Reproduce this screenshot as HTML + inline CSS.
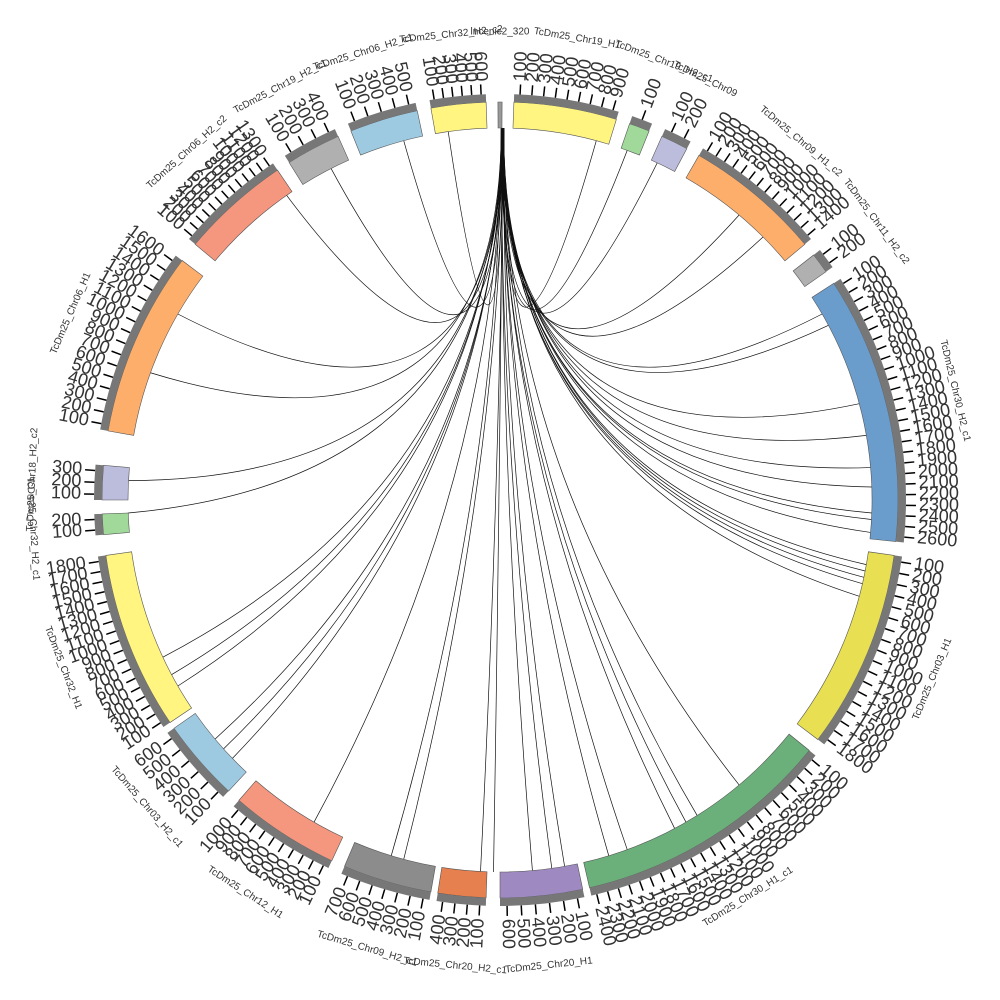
<!DOCTYPE html>
<html><head><meta charset="utf-8"><style>
html,body{margin:0;padding:0;background:#fff;}
svg{display:block;font-family:"Liberation Sans",sans-serif;}
</style></head><body>
<svg id="s" width="1000" height="1000" viewBox="0 0 1000 1000" xmlns="http://www.w3.org/2000/svg"></svg>
<script>
var S=document.getElementById('s'),C=500,NS='http://www.w3.org/2000/svg';
function P(r,a){a=a*Math.PI/180;return [C+r*Math.sin(a),C-r*Math.cos(a)];}
function el(t,at,txt){var e=document.createElementNS(NS,t);for(var k in at)e.setAttribute(k,at[k]);if(txt!=null)e.textContent=txt;S.appendChild(e);return e;}
function arc(r1,r2,a1,a2){var p1=P(r2,a1),p2=P(r2,a2),p3=P(r1,a2),p4=P(r1,a1),l=(a2-a1)>180?1:0;
return 'M'+p1+' A'+r2+' '+r2+' 0 '+l+' 1 '+p2+' L'+p3+' A'+r1+' '+r1+' 0 '+l+' 0 '+p4+'Z';}
var segs=[
[-0.3,0.3,'#999','lncenic2_320',0],
[2,17,'#fff580','TcDm25_Chr19_H1',9],
[19,22,'#a1d99b','TcDm25_Chr19_H2_c1',1],
[24,28,'#bcbddc','TcDm25_Chr09',2],
[30,50,'#fdae6b','TcDm25_Chr09_H1_c2',14],
[52,55,'#b0b0b0','TcDm25_Chr11_H2_c2',2],
[57,96,'#6a9ccc','TcDm25_Chr30_H2_c1',26],
[98,127,'#e8e052','TcDm25_Chr03_H1',18],
[129,167,'#6bb07a','TcDm25_Chr30_H1_c1',24],
[168,180,'#9e89c1','TcDm25_Chr20_H1',6],
[182,189,'#e6804f','TcDm25_Chr20_H2_c1',4],
[190,203,'#8c8c8c','TcDm25_Chr09_H2_c1',7],
[205,221,'#f4977e','TcDm25_Chr12_H1',10],
[223,235,'#9ecae1','TcDm25_Chr03_H2_c1',6],
[236,262,'#fff580','TcDm25_Chr32_H1',18],
[265,268,'#a1d99b','TcDm25_Chr32_H2_c1',2],
[270,275,'#bcbddc','TcDm25_Chr18_H2_c2',3],
[280,307,'#fdae6b','TcDm25_Chr06_H1',16],
[310,326,'#f4977e','TcDm25_Chr06_H2_c2',13],
[328,336,'#b0b0b0','TcDm25_Chr19_H2_c1',4],
[338,348,'#9ecae1','TcDm25_Chr06_H2_c1',5],
[350,358,'#fff580','TcDm25_Chr32_H2_c2',6]];
// links
var tg=[325,333,345,352,15,20,25,40,45,60,62,75,80,85,88,92,93,95,100,101,102,103,105,140,148,150,152,160,163,170,172,175,181,183,195,197,210,226,228,230,240,242,245,268,273,290,300];
tg.forEach(function(t,i){var s=P(372,0.2+(i%5)*0.1),e=P(372,t);
el('path',{d:'M'+s+' Q'+C+' '+(C-20)+' '+e,fill:'none',stroke:'#111','stroke-width':0.7});});
segs.forEach(function(g){var a1=g[0],a2=g[1];
el('path',{d:arc(372,398,a1,a2),fill:g[2],stroke:'#555','stroke-width':0.6});
if(g[4]>0)el('path',{d:arc(398,406,a1,a2),fill:'#777'});
var n=g[4];
for(var i=0;i<n;i++){var a=a1+(a2-a1)*(i+0.5)/n,p1=P(406,a),p2=P(416,a);
el('line',{x1:p1[0],y1:p1[1],x2:p2[0],y2:p2[1],stroke:'#000','stroke-width':1.5});
var q=P(419,a),right=a<180,rot=right?a-90:a+90;
el('text',{x:q[0],y:q[1],'font-size':18,fill:'#333','text-anchor':right?'start':'end','dominant-baseline':'middle',transform:'rotate('+rot+' '+q[0]+' '+q[1]+')'},String((i+1)*100));}
var m=(a1+a2)/2,q=P(468,m),r=(m<90||m>270)?m:m+180;
el('text',{x:q[0],y:q[1],'font-size':10,fill:'#333','text-anchor':'middle','dominant-baseline':'middle',transform:'rotate('+r+' '+q[0]+' '+q[1]+')'},g[3]);});
</script>
</body></html>
